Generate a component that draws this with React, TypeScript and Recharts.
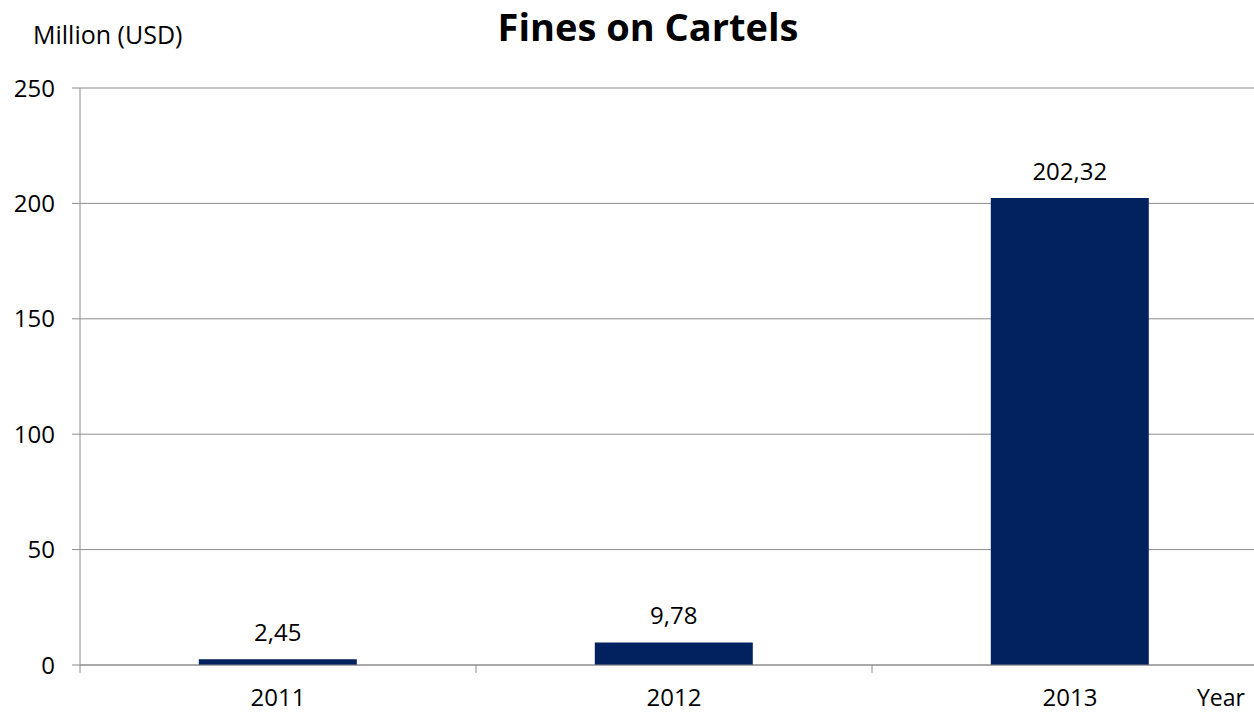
import { BarChart, Bar, XAxis, YAxis, CartesianGrid, LabelList } from 'recharts';

const years = ['2011', '2012', '2013'];
const fines = [2.45, 9.78, 202.32];
const yTicks = [0, 50, 100, 150, 200, 250];

const data = years.map((year, i) => ({ year, fine: fines[i] }));

const font = '"Open Sans", sans-serif';
const grey = '#8c8c8c';

function YearTick(props: any) {
  const { x, y, payload } = props;
  const half = payload && payload.offset ? payload.offset : 198;
  return (
    <g>
      <line x1={x - half} y1={y - 8} x2={x - half} y2={y} stroke={grey} strokeWidth={1} />
      <text x={x} y={y + 33} textAnchor="middle" fontFamily={font} fontSize={24} fill="#000">
        {payload.value}
      </text>
    </g>
  );
}

function App() {
  return (
    <div style={{ position: 'absolute', left: 0, top: 0, width: 1254, height: 715, overflow: 'hidden', background: '#fff' }}>
      <BarChart
        width={1290}
        height={715}
        data={data}
        margin={{ top: 88, right: 22, bottom: 0, left: 0 }}
        barCategoryGap="30%"
      >
        <CartesianGrid horizontal vertical={false} stroke={grey} strokeWidth={1} />
        <XAxis
          dataKey="year"
          height={50}
          axisLine={{ stroke: grey }}
          tickLine={false}
          tick={<YearTick />}
          interval={0}
        />
        <YAxis
          width={80}
          domain={[0, 250]}
          ticks={yTicks}
          interval={0}
          axisLine={{ stroke: grey }}
          tickLine={{ stroke: grey }}
          tickSize={8}
          tickMargin={17}
          tick={{ fontFamily: font, fontSize: 24, fill: '#000' }}
        />
        <Bar dataKey="fine" fill="#02215f" isAnimationActive={false}>
          <LabelList
            dataKey="fine"
            position="top"
            offset={18}
            formatter={(v: any) => String(v).replace('.', ',')}
            style={{ fontFamily: font, fontSize: 24, fill: '#000' }}
          />
        </Bar>
      </BarChart>
      <div style={{ position: 'absolute', left: 33, top: 17, fontFamily: font, fontSize: 25, lineHeight: '34px', color: '#000', whiteSpace: 'nowrap' }}>
        Million (USD)
      </div>
      <div style={{ position: 'absolute', left: 348, width: 600, top: 0, textAlign: 'center', fontFamily: font, fontSize: 38, lineHeight: 'normal', fontWeight: 700, color: '#000', whiteSpace: 'nowrap' }}>
        Fines on Cartels
      </div>
      <div style={{ position: 'absolute', left: 1197, top: 681, fontFamily: font, fontSize: 23, lineHeight: '32px', color: '#000' }}>
        Year
      </div>
    </div>
  );
}

export default App;
